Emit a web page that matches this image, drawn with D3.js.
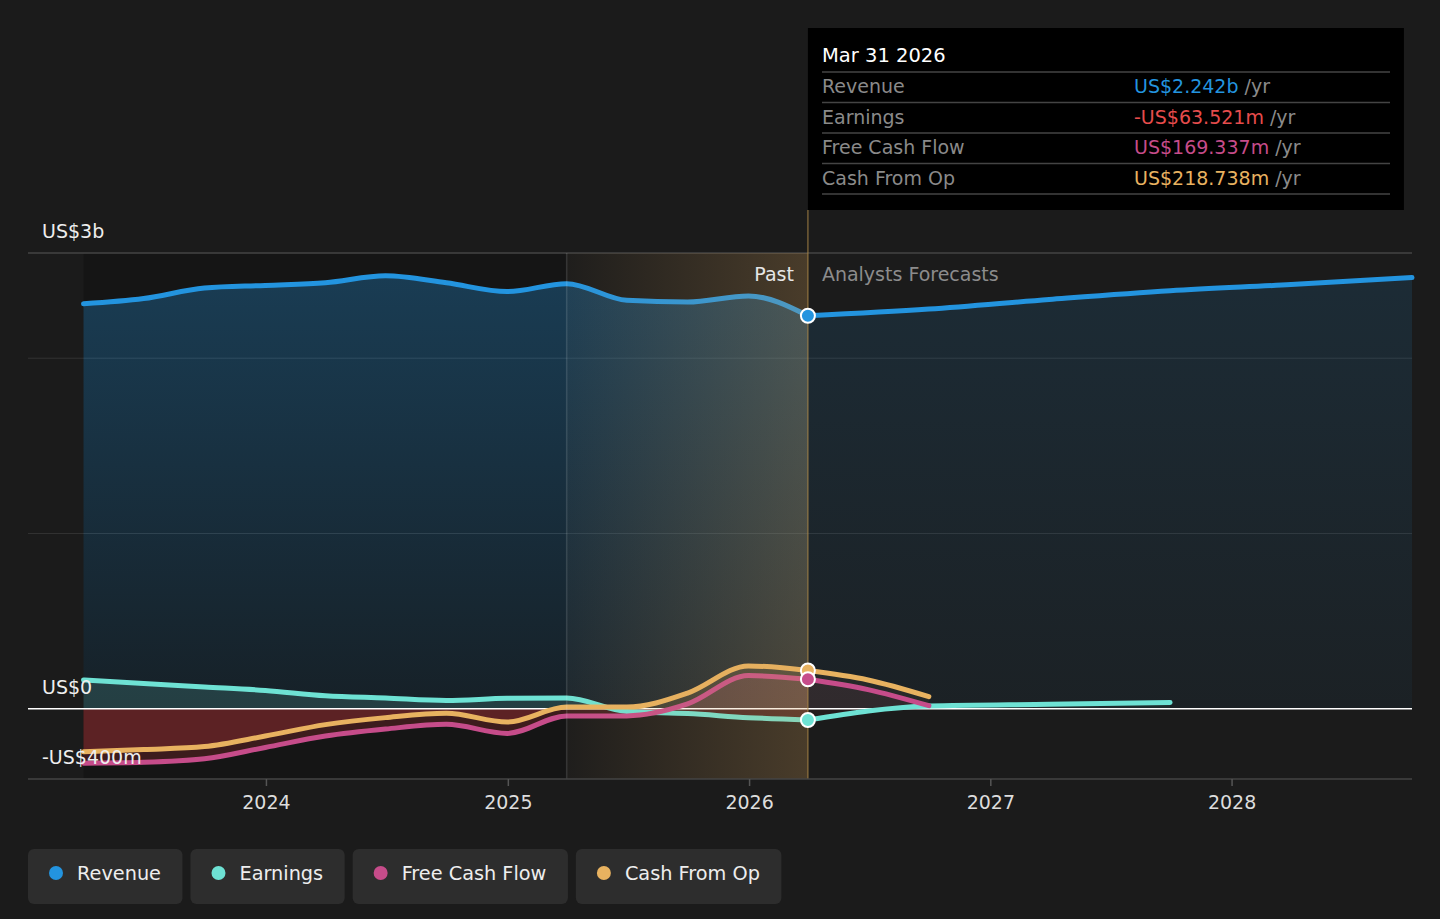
<!DOCTYPE html>
<html>
<head>
<meta charset="utf-8">
<script src="https://cdn.jsdelivr.net/npm/d3@7"></script>
<style>
  html, body { margin: 0; padding: 0; background: #1b1b1b; }
  svg { display: block; font-family: "DejaVu Sans", sans-serif; }
</style>
</head>
<body>
<svg id="chart" width="1440" height="919"></svg>
<script>
// ---- data (US$ billions) ----
const pastDates = ["2023-03-31", "2023-06-30", "2023-09-30", "2023-12-31", "2024-03-31", "2024-06-30",
    "2024-09-30", "2024-12-31", "2025-03-31", "2025-06-30", "2025-09-30", "2025-12-31", "2026-03-31"];
const revenuePast  = [2.31, 2.34, 2.40, 2.415, 2.43, 2.47, 2.43, 2.38, 2.425, 2.33, 2.32, 2.355, 2.242];
const earningsPast = [0.165, 0.145, 0.125, 0.105, 0.075, 0.062, 0.048, 0.06, 0.062, -0.015, -0.027, -0.05, -0.0635];
const fcfPast      = [-0.31, -0.305, -0.285, -0.22, -0.155, -0.115, -0.088, -0.14, -0.04, -0.04, 0.028, 0.19, 0.169];
const cfoPast      = [-0.245, -0.232, -0.215, -0.155, -0.09, -0.05, -0.025, -0.075, 0.01, 0.01, 0.09, 0.245, 0.2187];

const revenueFcDates = ["2026-03-31", "2026-09-30", "2027-03-31", "2027-09-30", "2028-03-31", "2028-09-30"];
const revenueFc      = [2.242, 2.28, 2.335, 2.385, 2.42, 2.46];
const earningsFcDates = ["2026-03-31", "2026-09-30", "2027-03-31", "2027-09-30"];
const earningsFc      = [-0.0635, 0.016, 0.026, 0.036];
const cashFcDates = ["2026-03-31", "2026-06-30", "2026-09-30"];
const fcfFc       = [0.169, 0.11, 0.018];
const cfoFc       = [0.2187, 0.165, 0.07];

const seriesNames  = ["Revenue", "Earnings", "Free Cash Flow", "Cash From Op"];
const seriesColors = ["#2394df", "#6ee2d4", "#c64c8a", "#e8b260"];
const tooltipDate  = "Mar 31 2026";
const tooltipValues = ["US$2.242b", "-US$63.521m", "US$169.337m", "US$218.738m"];
const tooltipValueColors = ["#2394df", "#e64c4c", "#c64c8a", "#e8b260"];

const yLabels = [{ v: 2.6, t: "US$3b" }, { v: 0, t: "US$0" }, { v: -0.4, t: "-US$400m" }];
const yGrid = [1, 2];
const yearTicks = ["2024-01-01", "2025-01-01", "2026-01-01", "2027-01-01", "2028-01-01"];
const bandStart = "2025-03-31";
const todayDate = "2026-03-31";

// ---- setup ----
const parse = d3.timeParse("%Y-%m-%d");
const pLeft = 28, pRight = 1412, pTop = 253, pBottom = 779;

const x = d3.scaleTime()
    .domain([parse("2023-01-06"), parse("2028-09-30")])
    .range([pLeft, pRight]);
const y = d3.scaleLinear()
    .domain([-0.4, 2.6])
    .range([pBottom, pTop]);

const svg = d3.select("#chart");
const defs = svg.append("defs");

const zip = (dates, vals) => dates.map((d, i) => ({ date: parse(d), v: vals[i] }));
const past = {
    revenue: zip(pastDates, revenuePast),
    earnings: zip(pastDates, earningsPast),
    fcf: zip(pastDates, fcfPast),
    cfo: zip(pastDates, cfoPast)
};
const fc = {
    revenue: zip(revenueFcDates, revenueFc),
    earnings: zip(earningsFcDates, earningsFc),
    fcf: zip(cashFcDates, fcfFc),
    cfo: zip(cashFcDates, cfoFc)
};

const line = d3.line().x(d => x(d.date)).y(d => y(d.v)).curve(d3.curveMonotoneX);
const area = d3.area().x(d => x(d.date)).y0(y(0)).y1(d => y(d.v)).curve(d3.curveMonotoneX);

// gradients
function vGrad(id, color, a0, a1) {
    const g = defs.append("linearGradient").attr("id", id)
        .attr("gradientUnits", "userSpaceOnUse")
        .attr("x1", 0).attr("x2", 0).attr("y1", pTop).attr("y2", y(0));
    g.append("stop").attr("offset", 0).attr("stop-color", color).attr("stop-opacity", a0);
    g.append("stop").attr("offset", 1).attr("stop-color", color).attr("stop-opacity", a1);
}
vGrad("revPast", seriesColors[0], 0.32, 0.09);
vGrad("revFc", seriesColors[0], 0.14, 0.05);

const xb0 = x(parse(bandStart)), xb1 = x(parse(todayDate));
const band = defs.append("linearGradient").attr("id", "bandGrad")
    .attr("gradientUnits", "userSpaceOnUse")
    .attr("x1", xb0).attr("x2", xb1).attr("y1", 0).attr("y2", 0);
band.append("stop").attr("offset", 0).attr("stop-color", "#dca55a").attr("stop-opacity", 0.02);
band.append("stop").attr("offset", 1).attr("stop-color", "#dca55a").attr("stop-opacity", 0.24);

// clip paths for sign of area
defs.append("clipPath").attr("id", "above")
    .append("rect").attr("x", pLeft).attr("y", pTop).attr("width", pRight - pLeft).attr("height", y(0) - pTop);
defs.append("clipPath").attr("id", "below")
    .append("rect").attr("x", pLeft).attr("y", y(0)).attr("width", pRight - pLeft).attr("height", pBottom - y(0));

// ---- background layers ----
svg.append("rect").attr("width", 1440).attr("height", 919).attr("fill", "#1b1b1b");

// darker past region
svg.append("rect")
    .attr("x", x(past.revenue[0].date)).attr("y", pTop)
    .attr("width", xb0 - x(past.revenue[0].date)).attr("height", pBottom - pTop)
    .attr("fill", "#000").attr("opacity", 0.2);

// gridlines
svg.append("g").selectAll("line").data(yGrid).join("line")
    .attr("x1", pLeft).attr("x2", pRight)
    .attr("y1", d => y(d)).attr("y2", d => y(d))
    .attr("stroke", "#333").attr("stroke-width", 1);

svg.append("line").attr("x1", pLeft).attr("x2", pRight).attr("y1", pTop).attr("y2", pTop)
    .attr("stroke", "#444").attr("stroke-width", 1.5);

// ---- areas ----
svg.append("path").attr("d", area(past.revenue)).attr("fill", "url(#revPast)");
svg.append("path").attr("d", area(fc.revenue)).attr("fill", "url(#revFc)");

const minor = [
    { key: "earnings", color: seriesColors[1] },
    { key: "fcf", color: seriesColors[2] },
    { key: "cfo", color: seriesColors[3] }
];
const gAbove = svg.append("g").attr("clip-path", "url(#above)");
const gBelow = svg.append("g").attr("clip-path", "url(#below)");
minor.forEach(s => {
    gAbove.append("path").attr("d", area(past[s.key])).attr("fill", s.color).attr("fill-opacity", 0.16);
    gAbove.append("path").attr("d", area(fc[s.key])).attr("fill", s.color).attr("fill-opacity", 0.06);
    gBelow.append("path").attr("d", area(past[s.key])).attr("fill", "#c0383c").attr("fill-opacity", 0.24);
    gBelow.append("path").attr("d", area(fc[s.key])).attr("fill", "#c0383c").attr("fill-opacity", 0.06);
});

// zero line
svg.append("line").attr("x1", pLeft).attr("x2", pRight).attr("y1", y(0)).attr("y2", y(0))
    .attr("stroke", "#fff").attr("stroke-width", 1.5);

// ---- lines ----
const allKeys = ["revenue", "earnings", "fcf", "cfo"];
allKeys.forEach((k, i) => {
    [past[k], fc[k]].forEach(data => {
        svg.append("path").attr("d", line(data))
            .attr("fill", "none")
            .attr("stroke", seriesColors[i])
            .attr("stroke-width", 5)
            .attr("stroke-linecap", "round");
    });
});

// highlight band on top
svg.append("rect").attr("x", xb0).attr("y", pTop).attr("width", xb1 - xb0).attr("height", pBottom - pTop)
    .attr("fill", "url(#bandGrad)");
svg.append("line").attr("x1", xb0).attr("x2", xb0).attr("y1", pTop).attr("y2", pBottom)
    .attr("stroke", "#fff").attr("stroke-opacity", 0.13).attr("stroke-width", 1.5);
svg.append("line").attr("x1", xb1).attr("x2", xb1).attr("y1", 210).attr("y2", pBottom)
    .attr("stroke", "#b08a48").attr("stroke-opacity", 0.6).attr("stroke-width", 1.5);

// bottom axis
svg.append("line").attr("x1", pLeft).attr("x2", pRight).attr("y1", pBottom).attr("y2", pBottom)
    .attr("stroke", "#444").attr("stroke-width", 1.5);
const xAxis = svg.append("g").attr("transform", `translate(0,${pBottom})`)
    .call(d3.axisBottom(x).tickValues(yearTicks.map(parse)).tickFormat(d3.timeFormat("%Y")).tickSize(7).tickPadding(10));
xAxis.select(".domain").remove();
xAxis.selectAll(".tick line").attr("stroke", "#555").attr("stroke-width", 1.5);
xAxis.selectAll(".tick text").attr("fill", "#ddd").attr("font-size", 19)
    .attr("font-family", "DejaVu Sans");

// dots at today
allKeys.slice().reverse().forEach((k, j) => {
    const i = allKeys.length - 1 - j;
    const d = past[k][past[k].length - 1];
    svg.append("circle").attr("cx", x(d.date)).attr("cy", y(d.v)).attr("r", 7)
        .attr("fill", seriesColors[i]).attr("stroke", "#fff").attr("stroke-width", 2);
});

// y labels
svg.append("g").selectAll("text").data(yLabels).join("text")
    .attr("x", 42).attr("y", d => y(d.v) - 15)
    .attr("fill", "#eee").attr("font-size", 19)
    .text(d => d.t);

// Past / forecast labels
svg.append("text").attr("x", xb1 - 14).attr("y", 281).attr("text-anchor", "end")
    .attr("fill", "#e6e6e6").attr("font-size", 19).text("Past");
svg.append("text").attr("x", xb1 + 14).attr("y", 281)
    .attr("fill", "#8c8c8c").attr("font-size", 19).text("Analysts Forecasts");

// ---- tooltip ----
const tip = svg.append("g");
tip.append("rect").attr("x", xb1).attr("y", 28).attr("width", 596).attr("height", 182).attr("fill", "#000");
tip.append("text").attr("x", 822).attr("y", 62).attr("fill", "#fff").attr("font-size", 19.5).text(tooltipDate);
const rowTop = 72, rowH = 30.5;
tip.selectAll("line.sep").data(d3.range(seriesNames.length + 1)).join("line")
    .attr("class", "sep")
    .attr("x1", 822).attr("x2", 1390)
    .attr("y1", i => rowTop + i * rowH).attr("y2", i => rowTop + i * rowH)
    .attr("stroke", "#444").attr("stroke-width", 1.5);
seriesNames.forEach((name, i) => {
    const yy = rowTop + i * rowH + 21;
    tip.append("text").attr("x", 822).attr("y", yy).attr("fill", "#8a8a8a").attr("font-size", 19).text(name);
    const t = tip.append("text").attr("x", 1134).attr("y", yy).attr("font-size", 19);
    t.append("tspan").attr("fill", tooltipValueColors[i]).text(tooltipValues[i]);
    t.append("tspan").attr("fill", "#8a8a8a").text(" /yr");
});

// ---- legend ----
const legend = svg.append("g");
let lx = 28;
seriesNames.forEach((name, i) => {
    const g = legend.append("g");
    const bg = g.append("rect").attr("x", lx).attr("y", 849).attr("height", 55).attr("rx", 6)
        .attr("fill", "#2d2d2d");
    g.append("circle").attr("cx", lx + 28).attr("cy", 873).attr("r", 7).attr("fill", seriesColors[i]);
    const t = g.append("text").attr("x", lx + 49).attr("y", 880).attr("fill", "#eee")
        .attr("font-size", 19.3).text(name);
    const w = 49 + t.node().getComputedTextLength() + 21.5;
    bg.attr("width", w);
    lx += w + 8;
});
</script>
</body>
</html>
